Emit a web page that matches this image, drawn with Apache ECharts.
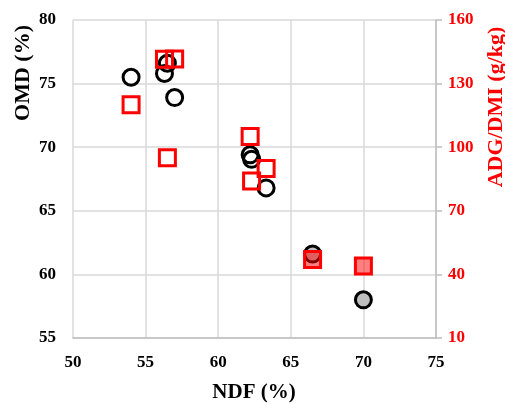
<!DOCTYPE html>
<html>
<head>
<meta charset="utf-8">
<script src="https://cdn.jsdelivr.net/npm/echarts@6/dist/echarts.min.js"></script>
<style>
html,body{margin:0;padding:0;background:#fff;}
#chart{width:505px;height:405px;}
</style>
</head>
<body>
<div id="chart"></div>
<script>
// NDF (%) for each diet
const ndf = [54.0, 56.3, 56.5, 57.0, 62.2, 62.3, 63.3, 66.5, 70.0];
// OMD (%) — left axis (circles)
const omd = [75.5, 75.8, 76.6, 73.9, 69.4, 69.05, 66.8, 61.6, 58.0];
// ADG/DMI (g/kg) — right axis (squares)
const adgDmi = [120, 141.5, 95, 141.6, 105, 84, 90, 47, 44];
// diets shown with filled markers
const filledDiet = [false, false, false, false, false, false, false, true, true];

const xTicks = [50, 55, 60, 65, 70, 75];
const leftTicks = [55, 60, 65, 70, 75, 80];
const rightTicks = [10, 40, 70, 100, 130, 160];

const FONT = '"Liberation Serif", "DejaVu Serif", serif';

const circleData = ndf.map((x, i) => ({
  value: [x, omd[i]],
  itemStyle: filledDiet[i] ? { color: '#bfbfbf' } : { color: 'rgba(255,255,255,0)' }
}));
const squareData = ndf.map((x, i) => ({
  value: [x, adgDmi[i]],
  itemStyle: filledDiet[i] ? { color: 'rgba(255,0,0,0.5)' } : { color: 'rgba(255,255,255,0)' }
}));

const chart = echarts.init(document.getElementById('chart'), null, { renderer: 'canvas' });
chart.setOption({
  animation: false,
  backgroundColor: '#fff',
  grid: { left: 73, right: 69, top: 20, bottom: 67, containLabel: false },
  xAxis: {
    type: 'value', min: xTicks[0], max: xTicks[xTicks.length - 1], interval: 5,
    axisLine: { show: true, lineStyle: { color: '#bfbfbf', width: 1.5 } },
    axisTick: { show: false },
    splitLine: { show: true, lineStyle: { color: '#d9d9d9', width: 1.5 } },
    axisLabel: { margin: 16, color: '#000', fontFamily: FONT, fontWeight: 'bold', fontSize: 17 }
  },
  yAxis: [
    {
      type: 'value', min: leftTicks[0], max: leftTicks[leftTicks.length - 1], interval: 5,
      axisLine: { show: false },
      axisTick: { show: false },
      splitLine: { show: true, lineStyle: { color: '#d9d9d9', width: 1.5 } },
      axisLabel: { margin: 17, color: '#000', fontFamily: FONT, fontWeight: 'bold', fontSize: 17 }
    },
    {
      type: 'value', position: 'right', min: rightTicks[0], max: rightTicks[rightTicks.length - 1], interval: 30,
      axisLine: { show: true, lineStyle: { color: '#bfbfbf', width: 1.5 } },
      axisTick: { show: true, inside: false, length: 6, lineStyle: { color: '#bfbfbf', width: 1.5 } },
      splitLine: { show: false },
      axisLabel: { margin: 12, color: '#ff0000', fontFamily: FONT, fontWeight: 'bold', fontSize: 17 }
    }
  ],
  series: [
    {
      name: 'OMD', type: 'scatter', yAxisIndex: 0, symbol: 'circle', symbolSize: 16,
      itemStyle: { borderColor: '#000', borderWidth: 3, opacity: 1 },
      data: circleData, z: 2
    },
    {
      name: 'ADG/DMI', type: 'scatter', yAxisIndex: 1, symbol: 'rect', symbolSize: 16,
      itemStyle: { borderColor: '#ff0000', borderWidth: 3, opacity: 1 },
      data: squareData, z: 3
    }
  ],
  graphic: [
    {
      type: 'text', x: 254, y: 393,
      style: { text: 'NDF (%)', fill: '#000', font: 'bold 21px ' + FONT, textAlign: 'center', textVerticalAlign: 'middle' }
    },
    {
      type: 'text', x: 23, y: 73, rotation: Math.PI / 2,
      style: { text: 'OMD (%)', fill: '#000', font: 'bold 22px ' + FONT, textAlign: 'center', textVerticalAlign: 'middle' }
    },
    {
      type: 'text', x: 496, y: 107, rotation: Math.PI / 2,
      style: { text: 'ADG/DMI (g/kg)', fill: '#ff0000', font: 'bold 22px ' + FONT, textAlign: 'center', textVerticalAlign: 'middle' }
    }
  ]
});
</script>
</body>
</html>
